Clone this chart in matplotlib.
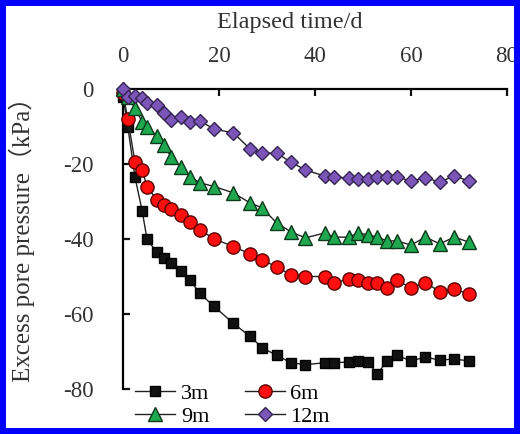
import matplotlib
matplotlib.use("Agg")
import matplotlib.pyplot as plt
from matplotlib.patches import Rectangle

days = [0, 1, 2.5, 4, 5, 7, 8.5, 10, 12, 14, 16, 19, 23, 26.5, 29, 32, 35, 38,
        42, 44, 47, 49, 51, 53, 55, 57, 60, 63, 66, 69, 72]

p_3m = [-2, -10, -23.5, -32.5, -40, -43.5, -45, -46.5, -48.5, -51, -54.5, -58,
        -62.5, -66, -69, -71, -73, -73.5, -73, -73, -72.8, -72.5, -72.8, -76,
        -72.5, -71, -72.5, -71.5, -72.3, -72, -72.5]
p_6m = [-1, -8, -19.5, -21.5, -26, -29.5, -31, -32, -33.5, -35.5, -37.5, -40,
        -42, -44, -45.5, -47.5, -49.5, -50, -50, -51.7, -50.7, -51, -51.7,
        -51.7, -53, -51, -53, -51.7, -54, -53.4, -54.6]
p_9m = [0, -2, -5, -8.8, -10, -12.5, -15, -18, -20.7, -23.4, -25, -26, -27.7,
        -30.4, -31.7, -35.7, -38.1, -39.7, -38.4, -39.5, -39.5, -38.4, -38.9,
        -39.5, -40.5, -40.5, -41.6, -39.5, -41.3, -39.5, -40.8]
p_12m = [0, -2, -1.8, -2.5, -3.7, -4.3, -6.4, -8.3, -7.5, -8.8, -8.5, -10.7,
         -11.7, -16, -17.1, -17.1, -19.5, -21.6, -23.2, -23.5, -23.7, -24, -24,
         -23.5, -23.5, -23.5, -24.5, -23.7, -24.8, -23.2, -24.5]

labels = ["3m", "6m", "9m", "12m"]
x_ticks = [0, 20, 40, 60, 80]
y_ticks = [0, -20, -40, -60, -80]

plt.rcParams['font.family'] = ['Liberation Serif', 'Noto Sans CJK SC', 'DejaVu Sans']
plt.rcParams['axes.unicode_minus'] = False

fig = plt.figure(figsize=(5.2, 4.34), dpi=100)
ax = fig.add_axes([0.2365, 0.1037, 0.7385, 0.6912])

styles = [
    dict(marker='s', mfc='#111111', mec='#000000', ms=7),
    dict(marker='o', mfc='#ff1010', mec='#5a0000', ms=9.5),
    dict(marker='^', mfc='#20a850', mec='#0d3a1c', ms=9.5),
    dict(marker='D', mfc='#7b55b8', mec='#362552', ms=7),
]
series = [p_3m, p_6m, p_9m, p_12m]
handles = []
for vals, lab, st in zip(series, labels, styles):
    h, = ax.plot(days, vals, color='#222222', lw=1.0, label=lab, clip_on=False,
                 mew=1.0, zorder=3, **st)
    handles.append(h)

ax.set_xlim(0, 80)
ax.set_ylim(-80, 0)
ax.set_xticks(x_ticks)
ax.set_yticks(y_ticks)
ax.set_yticklabels([str(v) for v in y_ticks])
ax.xaxis.tick_top()
ax.xaxis.set_label_position('top')
ax.spines['bottom'].set_visible(False)
ax.spines['right'].set_visible(False)
for s in ('top', 'left'):
    ax.spines[s].set_linewidth(1.6)
ax.tick_params(axis='x', direction='in', length=5, width=1.6, pad=16,
               labelsize=16.5, colors='#111111', labelcolor='#333333')
ax.tick_params(axis='y', direction='in', length=5, width=1.6, pad=21,
               labelsize=16.5, colors='#111111', labelcolor='#333333')
ax.set_xlabel("Elapsed time/d", fontsize=17.5, color='#333333')
ax.xaxis.set_label_coords(0.435, 1.205)
ax.set_ylabel("Excess pore pressure（kPa）", fontsize=18, color='#333333')
ax.yaxis.set_label_coords(-0.229, 0.52)

order = [0, 2, 1, 3]
fig.legend([handles[i] for i in order], [labels[i] for i in order],
           loc='upper left', bbox_to_anchor=(0.26, 0.116), ncol=2,
           frameon=False, fontsize=16, handlelength=1.8, handletextpad=0.25,
           columnspacing=1.6, labelspacing=0.1, borderpad=0, borderaxespad=0)

fig.patches.append(Rectangle((0, 0), 1, 1, transform=fig.transFigure,
                             fill=False, edgecolor='#0000ff', linewidth=8.6))

fig.savefig("out.png", dpi=100)
